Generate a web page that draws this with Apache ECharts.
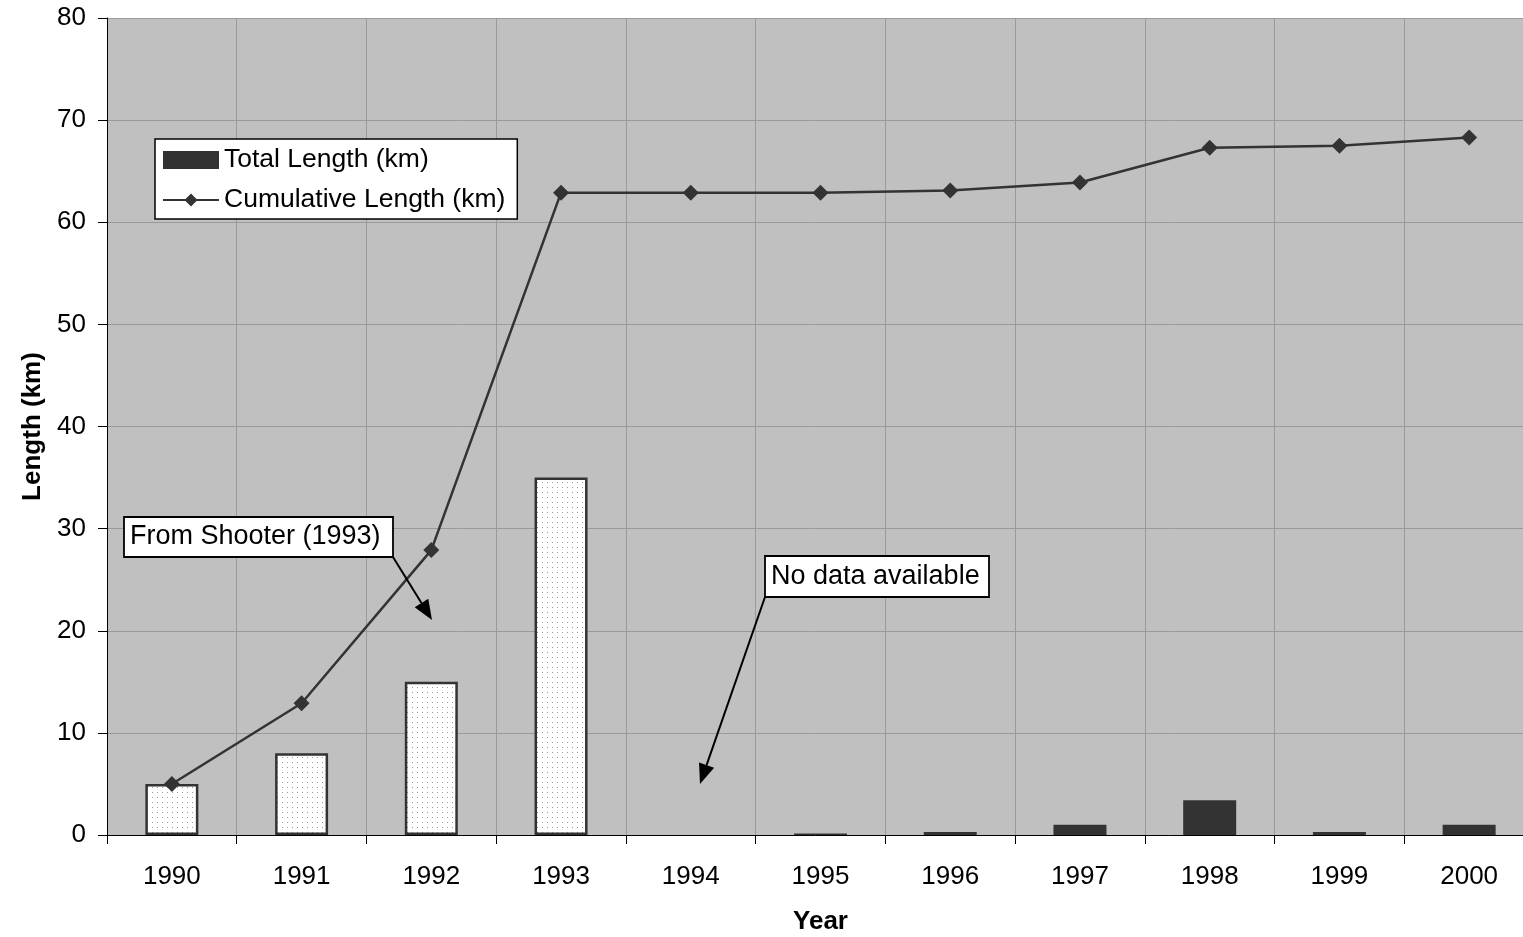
<!DOCTYPE html>
<html>
<head>
<meta charset="utf-8">
<script src="https://cdn.jsdelivr.net/npm/echarts@6/dist/echarts.min.js"></script>
<style>
html,body{margin:0;padding:0;background:#fff;overflow:hidden;}
#chart{width:1523px;height:937px;}
</style>
</head>
<body>
<div id="chart"></div>
<script>
// ---- data ----
var years = ['1990','1991','1992','1993','1994','1995','1996','1997','1998','1999','2000'];
var totalLength = [5, 8, 15, 35, null, 0.15, 0.3, 1.0, 3.4, 0.3, 1.0];
var cumulativeLength = [5, 12.9, 27.9, 62.9, 62.9, 62.9, 63.1, 63.9, 67.3, 67.5, 68.3];
// years whose bar values come from Shooter (1993) -> drawn with dotted fill
var fromShooter = [true, true, true, true, false, false, false, false, false, false, false];
var yTicks = [0, 10, 20, 30, 40, 50, 60, 70, 80];

var FONT = '"Liberation Sans", Arial, sans-serif';

// dotted pattern
var pc = document.createElement('canvas');
pc.width = 5; pc.height = 5;
var pctx = pc.getContext('2d');
pctx.fillStyle = '#ffffff'; pctx.fillRect(0,0,5,5);
pctx.fillStyle = '#9a9a9a'; pctx.fillRect(2,2,1,1);

var barData = totalLength.map(function(v, i){
  if (v === null) return null;
  if (fromShooter[i]) {
    return {value: v, itemStyle: {color: {image: pc, repeat: 'repeat'}, borderColor: '#333333', borderWidth: 2.5}};
  }
  return {value: v};
});

var chart = echarts.init(document.getElementById('chart'), null, {renderer: 'canvas'});

function arrow(x1, y1, x2, y2) {
  var dx = x2 - x1, dy = y2 - y1, len = Math.sqrt(dx*dx + dy*dy);
  var ux = dx/len, uy = dy/len;
  var hl = 20, hw = 8;
  var bx = x2 - ux*hl, by = y2 - uy*hl;
  return [
    {type:'line', shape:{x1:x1, y1:y1, x2:bx, y2:by}, style:{stroke:'#000', lineWidth:2}, z:100},
    {type:'polygon', shape:{points:[[x2,y2],[bx - uy*hw, by + ux*hw],[bx + uy*hw, by - ux*hw]]}, style:{fill:'#000'}, z:100}
  ];
}

function noteBox(x, y, w, h, text) {
  return [
    {type:'rect', shape:{x:x, y:y, width:w, height:h}, style:{fill:'#fff', stroke:'#000', lineWidth:1.8}, z:101},
    {type:'text', x:x+6, y:y+h/2, style:{text:text, font:'27px ' + FONT, fill:'#000', textVerticalAlign:'middle'}, z:102}
  ];
}

var graphics = [].concat(
  arrow(393, 557, 432, 620),
  noteBox(124, 517, 269, 40, 'From Shooter (1993)'),
  arrow(765, 597, 700, 784),
  noteBox(765, 556, 224, 41, 'No data available')
);

// legend icon: line with diamond; two sub-pixel specks at the corners fix the box to 56x18
var lineIcon = 'path://M0,0L0.2,0L0,0.2Z M56,18L55.8,18L56,17.8Z M0,8L56,8L56,10L0,10Z M28,2.5L34.5,9L28,15.5L21.5,9Z';

var option = {
  animation: false,
  backgroundColor: '#ffffff',
  textStyle: {fontFamily: FONT},
  grid: {left: 107, top: 18, right: -11, bottom: 102, show: true, backgroundColor: '#c0c0c0', borderWidth: 0,
         containLabel: false, outerBoundsMode: 'none'},
  legend: {
    orient: 'vertical',
    left: 155, top: 139,
    backgroundColor: '#ffffff',
    borderColor: '#000000', borderWidth: 1.5,
    padding: [6, 12, 4, 8],
    itemWidth: 56, itemHeight: 18, itemGap: 10,
    textStyle: {fontSize: 26.5, color: '#000', fontFamily: FONT, lineHeight: 30},
    data: [
      {name: 'Total Length (km)', icon: 'rect', itemStyle: {color: '#333333', borderWidth: 0}},
      {name: 'Cumulative Length (km)', icon: lineIcon, itemStyle: {color: '#333333', borderWidth: 0}}
    ]
  },
  xAxis: {
    type: 'category',
    data: years,
    boundaryGap: true,
    name: 'Year',
    nameLocation: 'middle',
    nameGap: 74,
    nameTextStyle: {fontSize: 26, fontWeight: 'bold', color: '#000', fontFamily: FONT},
    axisLine: {show: true, lineStyle: {color: '#000', width: 1}},
    axisTick: {show: true, length: 9, lineStyle: {color: '#000'}},
    axisLabel: {fontSize: 26, color: '#000', margin: 29, fontFamily: FONT},
    splitLine: {show: true, lineStyle: {color: '#9a9a9a', width: 1}}
  },
  yAxis: {
    type: 'value',
    min: 0, max: 80, interval: 10,
    name: 'Length (km)',
    nameLocation: 'middle',
    nameGap: 61,
    nameRotate: 90,
    nameTextStyle: {fontSize: 26, fontWeight: 'bold', color: '#000', fontFamily: FONT},
    axisLine: {show: true, lineStyle: {color: '#000', width: 1}},
    axisTick: {show: true, length: 9, lineStyle: {color: '#000'}},
    axisLabel: {fontSize: 26, color: '#000', margin: 21, fontFamily: FONT,
      formatter: function(v){ return yTicks.indexOf(v) >= 0 ? String(v) : ''; }},
    splitLine: {show: true, lineStyle: {color: '#9a9a9a', width: 1}}
  },
  series: [
    {
      name: 'Total Length (km)',
      type: 'bar',
      data: barData,
      barWidth: 53,
      itemStyle: {color: '#333333'},
      z: 2
    },
    {
      name: 'Cumulative Length (km)',
      type: 'line',
      data: cumulativeLength,
      symbol: 'diamond',
      symbolSize: 16,
      lineStyle: {color: '#333333', width: 2.5},
      itemStyle: {color: '#333333'},
      z: 3
    }
  ],
  graphic: graphics
};
chart.setOption(option);
</script>
</body>
</html>
